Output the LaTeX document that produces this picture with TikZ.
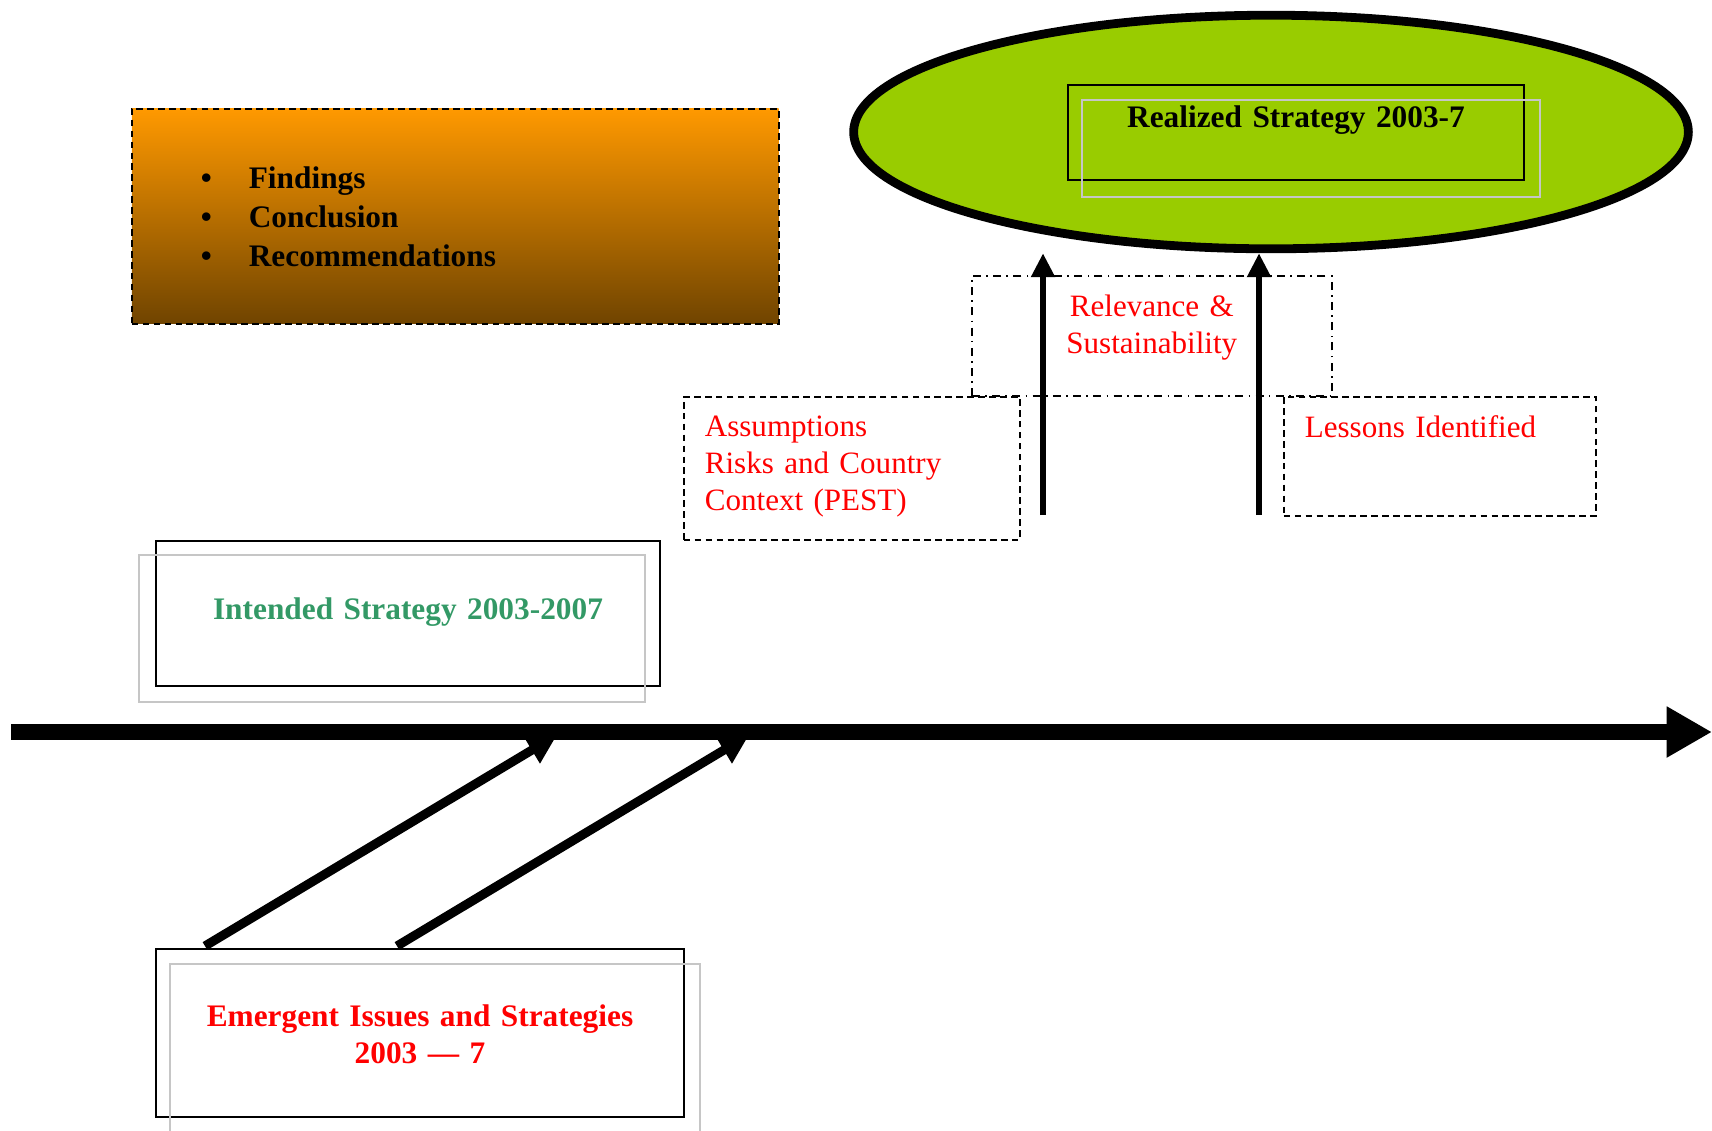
\documentclass[tikz,border=0pt]{standalone}
\usepackage{fontspec}
\setmainfont{Liberation Serif}
\usetikzlibrary{shapes.geometric,arrows.meta,calc}

\definecolor{leafgreen}{RGB}{153,204,0}
\definecolor{seagreen}{RGB}{51,153,102}
\definecolor{ambertop}{RGB}{255,153,0}
\definecolor{ambermid}{RGB}{210,127,0}
\definecolor{umberbottom}{RGB}{112,68,0}

\begin{document}
\begin{tikzpicture}[x=0.375pt, y=-0.375pt,
    frame/.style={rectangle, draw, line width=0.75pt, inner sep=0pt, align=center, font=\bfseries\fontsize{11.75}{14.2}\selectfont},
    note/.style={rectangle, draw, line width=0.6pt, dash pattern=on 2.5pt off 1.6pt, inner ysep=0pt, inner xsep=7.9pt, align=left, text=red, font=\fontsize{11.65}{13.9}\selectfont},
    ghost/.style={draw=gray!45, line width=0.5pt},
    spoke/.style={line width=2.6pt, -{Triangle[width=8.5pt, length=9pt]}},
    feeder/.style={line width=3.4pt, -{Triangle[width=11pt, length=11pt]}}]

\useasboundingbox (0,0) rectangle (1712,1130);

% Summary box (top left)
\node[rectangle, draw, line width=0.6pt, dash pattern=on 2.5pt off 1.6pt,
    top color=ambertop, middle color=ambermid, bottom color=umberbottom,
    anchor=north west, inner xsep=25.9pt, inner ysep=0pt, text width=190.8pt, align=left,
    text height=30pt, text depth=50.6pt, font=\bfseries\fontsize{11.75}{14.6}\selectfont] (summary) at (131,108)
    {\makebox[18pt][l]{\textbullet}Findings\\ \makebox[18pt][l]{\textbullet}Conclusion\\ \makebox[18pt][l]{\textbullet}Recommendations};

% Realized strategy (top right)
\node[ellipse, draw, line width=3.3pt, fill=leafgreen, minimum width=313pt, minimum height=87.6pt, inner sep=0pt] (realized) at (1271,132) {};
\node[frame, anchor=north west, text width=171pt, text height=15.75pt, text depth=19.9pt] (realframe) at (1067,84) {Realized Strategy 2003-7};
\draw[ghost] ($(realframe.north west)+(15,16)$) rectangle ($(realframe.south east)+(15,16)$);

% Factors under the realized strategy
\node[rectangle, draw, line width=0.6pt, dash dot, inner sep=0pt, text width=135pt, align=center, text=red,
    font=\fontsize{11.65}{13.9}\selectfont, text height=15.4pt, text depth=29.6pt, anchor=north west] (relevance) at (971,275)
    {Relevance \&\\ Sustainability};
\node[note, anchor=north west, text width=110.2pt, text height=15pt, text depth=38.6pt] (assumptions) at (683,396)
    {Assumptions\\ Risks and Country\\ Context (PEST)};
\node[note, anchor=north west, text width=101.2pt, text height=15.4pt, text depth=29.25pt] (lessons) at (1283,396)
    {Lessons Identified};

% Arrows up to the realized strategy
\coordinate (relfoot) at (1043,515);
\coordinate (lesfoot) at (1259,515);
\draw[spoke] (relfoot) -- (relfoot |- realized.south);
\draw[spoke] (lesfoot) -- (lesfoot |- realized.south);

% Intended strategy (left)
\node[frame, anchor=north west, text width=189pt, text=seagreen, text height=29.6pt, text depth=24.75pt] (intended) at (155,540)
    {Intended Strategy 2003-2007};
\draw[ghost] ($(intended.north west)+(-16,15)$) rectangle ($(intended.south east)+(-16,15)$);

% Emergent issues (bottom)
\node[frame, anchor=north west, text width=198pt, text=red, text height=28.9pt, text depth=34.1pt] (emergent) at (155,948)
    {Emergent Issues and Strategies\\ 2003 --- 7};
\draw[ghost] ($(emergent.north west)+(15,16)$) rectangle ($(emergent.south east)+(15,16)$);

% Arrows into the time line
\coordinate (emA) at (205,946);
\coordinate (emB) at (397,946);
\coordinate (hitA) at (557,735);
\coordinate (hitB) at (749,735);
\draw[feeder] (emA) -- (hitA);
\draw[feeder] (emB) -- (hitB);

% Time line
\coordinate (tl0) at (11,732);
\coordinate (tl1) at (1712,732);
\draw[line width=6pt, -{Triangle[width=18pt, length=17pt]}] (tl0) -- (tl1);

\end{tikzpicture}
\end{document}
